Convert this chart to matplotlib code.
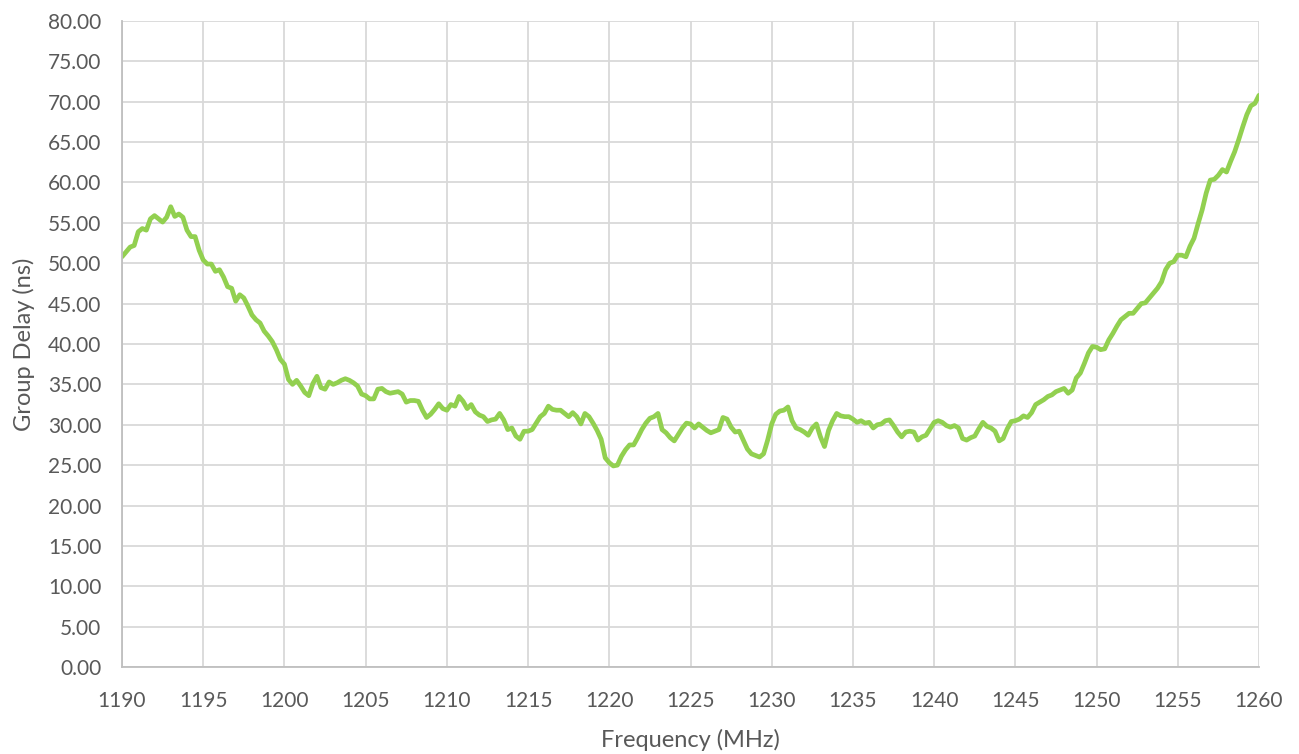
import numpy as np
import matplotlib.pyplot as plt
from matplotlib.ticker import MultipleLocator, FormatStrFormatter

# group delay in ns, every 0.25 MHz (one row per MHz)
delay = [
    50.8, 51.4, 52.0, 52.2,   # 1190
    53.9, 54.3, 54.1, 55.5,
    55.9, 55.5, 55.1, 55.7,
    57.0, 55.8, 56.1, 55.7,
    54.1, 53.3, 53.3, 51.6,
    50.4, 49.9, 49.9, 49.0,   # 1195
    49.2, 48.3, 47.1, 46.9,
    45.3, 46.1, 45.7, 44.7,
    43.6, 43.0, 42.6, 41.6,
    41.0, 40.3, 39.3, 38.1,
    37.5, 35.6, 35.0, 35.5,   # 1200
    34.8, 34.0, 33.6, 35.1,
    36.0, 34.6, 34.4, 35.3,
    35.0, 35.2, 35.5, 35.7,
    35.5, 35.2, 34.8, 33.8,
    33.6, 33.2, 33.2, 34.4,   # 1205
    34.5, 34.1, 33.9, 34.0,
    34.1, 33.8, 32.8, 33.0,
    33.0, 32.9, 31.8, 30.9,
    31.3, 31.9, 32.6, 32.0,
    31.8, 32.5, 32.3, 33.5,   # 1210
    32.9, 32.0, 32.5, 31.6,
    31.2, 31.0, 30.4, 30.6,
    30.7, 31.4, 30.6, 29.4,
    29.6, 28.6, 28.2, 29.2,
    29.2, 29.4, 30.2, 31.0,   # 1215
    31.4, 32.3, 31.9, 31.8,
    31.8, 31.4, 31.0, 31.5,
    31.0, 30.1, 31.4, 31.0,
    30.2, 29.3, 28.2, 25.9,
    25.3, 24.9, 25.0, 26.1,   # 1220
    26.9, 27.5, 27.5, 28.4,
    29.4, 30.2, 30.8, 31.0,
    31.4, 29.4, 29.0, 28.4,
    28.0, 28.8, 29.6, 30.2,
    30.1, 29.6, 30.1, 29.7,   # 1225
    29.3, 29.0, 29.2, 29.4,
    30.9, 30.7, 29.7, 29.1,
    29.2, 28.1, 27.0, 26.4,
    26.2, 26.0, 26.4, 28.1,
    30.1, 31.3, 31.7, 31.8,   # 1230
    32.2, 30.5, 29.6, 29.4,
    29.1, 28.7, 29.6, 30.1,
    28.5, 27.3, 29.3, 30.5,
    31.4, 31.1, 31.0, 31.0,
    30.7, 30.3, 30.5, 30.2,   # 1235
    30.3, 29.6, 30.0, 30.1,
    30.5, 30.6, 29.9, 29.1,
    28.5, 29.1, 29.2, 29.1,
    28.1, 28.5, 28.7, 29.5,
    30.3, 30.5, 30.3, 29.9,   # 1240
    29.7, 29.9, 29.6, 28.3,
    28.1, 28.4, 28.6, 29.5,
    30.3, 29.8, 29.6, 29.2,
    28.0, 28.3, 29.5, 30.4,
    30.5, 30.7, 31.1, 30.9,   # 1245
    31.5, 32.5, 32.8, 33.1,
    33.5, 33.7, 34.1, 34.3,
    34.5, 33.9, 34.3, 35.8,
    36.4, 37.6, 38.9, 39.7,
    39.6, 39.3, 39.4, 40.5,   # 1250
    41.3, 42.2, 43.0, 43.4,
    43.8, 43.8, 44.4, 45.0,
    45.1, 45.7, 46.3, 46.9,
    47.7, 49.2, 50.0, 50.2,
    51.0, 51.0, 50.8, 52.1,   # 1255
    53.1, 54.9, 56.6, 58.7,
    60.3, 60.4, 60.9, 61.6,
    61.3, 62.6, 63.8, 65.3,
    66.9, 68.4, 69.5, 69.8,
    70.8,                     # 1260
]
f_start, f_stop = 1190, 1260
freq = np.linspace(f_start, f_stop, len(delay))

plt.rcParams['font.family'] = ['Lato', 'DejaVu Sans']
text_col = '#595959'
grid_col = '#D9D9D9'

fig = plt.figure(figsize=(12.99, 7.54), dpi=100)
ax = fig.add_axes([122 / 1299, 1 - 667 / 754, (1259 - 122) / 1299, (667 - 21) / 754])

ax.plot(freq, delay, color='#92D050', linewidth=3.4,
        solid_joinstyle='round', solid_capstyle='round')

ax.set_xlim(f_start, f_stop)
ax.set_ylim(0, 80)
ax.xaxis.set_major_locator(MultipleLocator(5))
ax.yaxis.set_major_locator(MultipleLocator(5))
ax.yaxis.set_major_formatter(FormatStrFormatter('%.2f'))
ax.grid(True, color=grid_col, linewidth=1.3)
ax.set_axisbelow(True)

for s in ['top', 'right']:
    ax.spines[s].set_visible(False)
for s in ['left', 'bottom']:
    ax.spines[s].set_color('#BFBFBF')
    ax.spines[s].set_linewidth(1.3)

ax.tick_params(length=0, labelsize=15, colors=text_col)
ax.tick_params(axis='x', pad=17)
ax.tick_params(axis='y', pad=15)
ax.set_xlabel('Frequency (MHz)', fontsize=17, color=text_col, labelpad=13)
ax.set_ylabel('Group Delay (ns)', fontsize=17, color=text_col, labelpad=9)

fig.savefig('out.png', dpi=100)
